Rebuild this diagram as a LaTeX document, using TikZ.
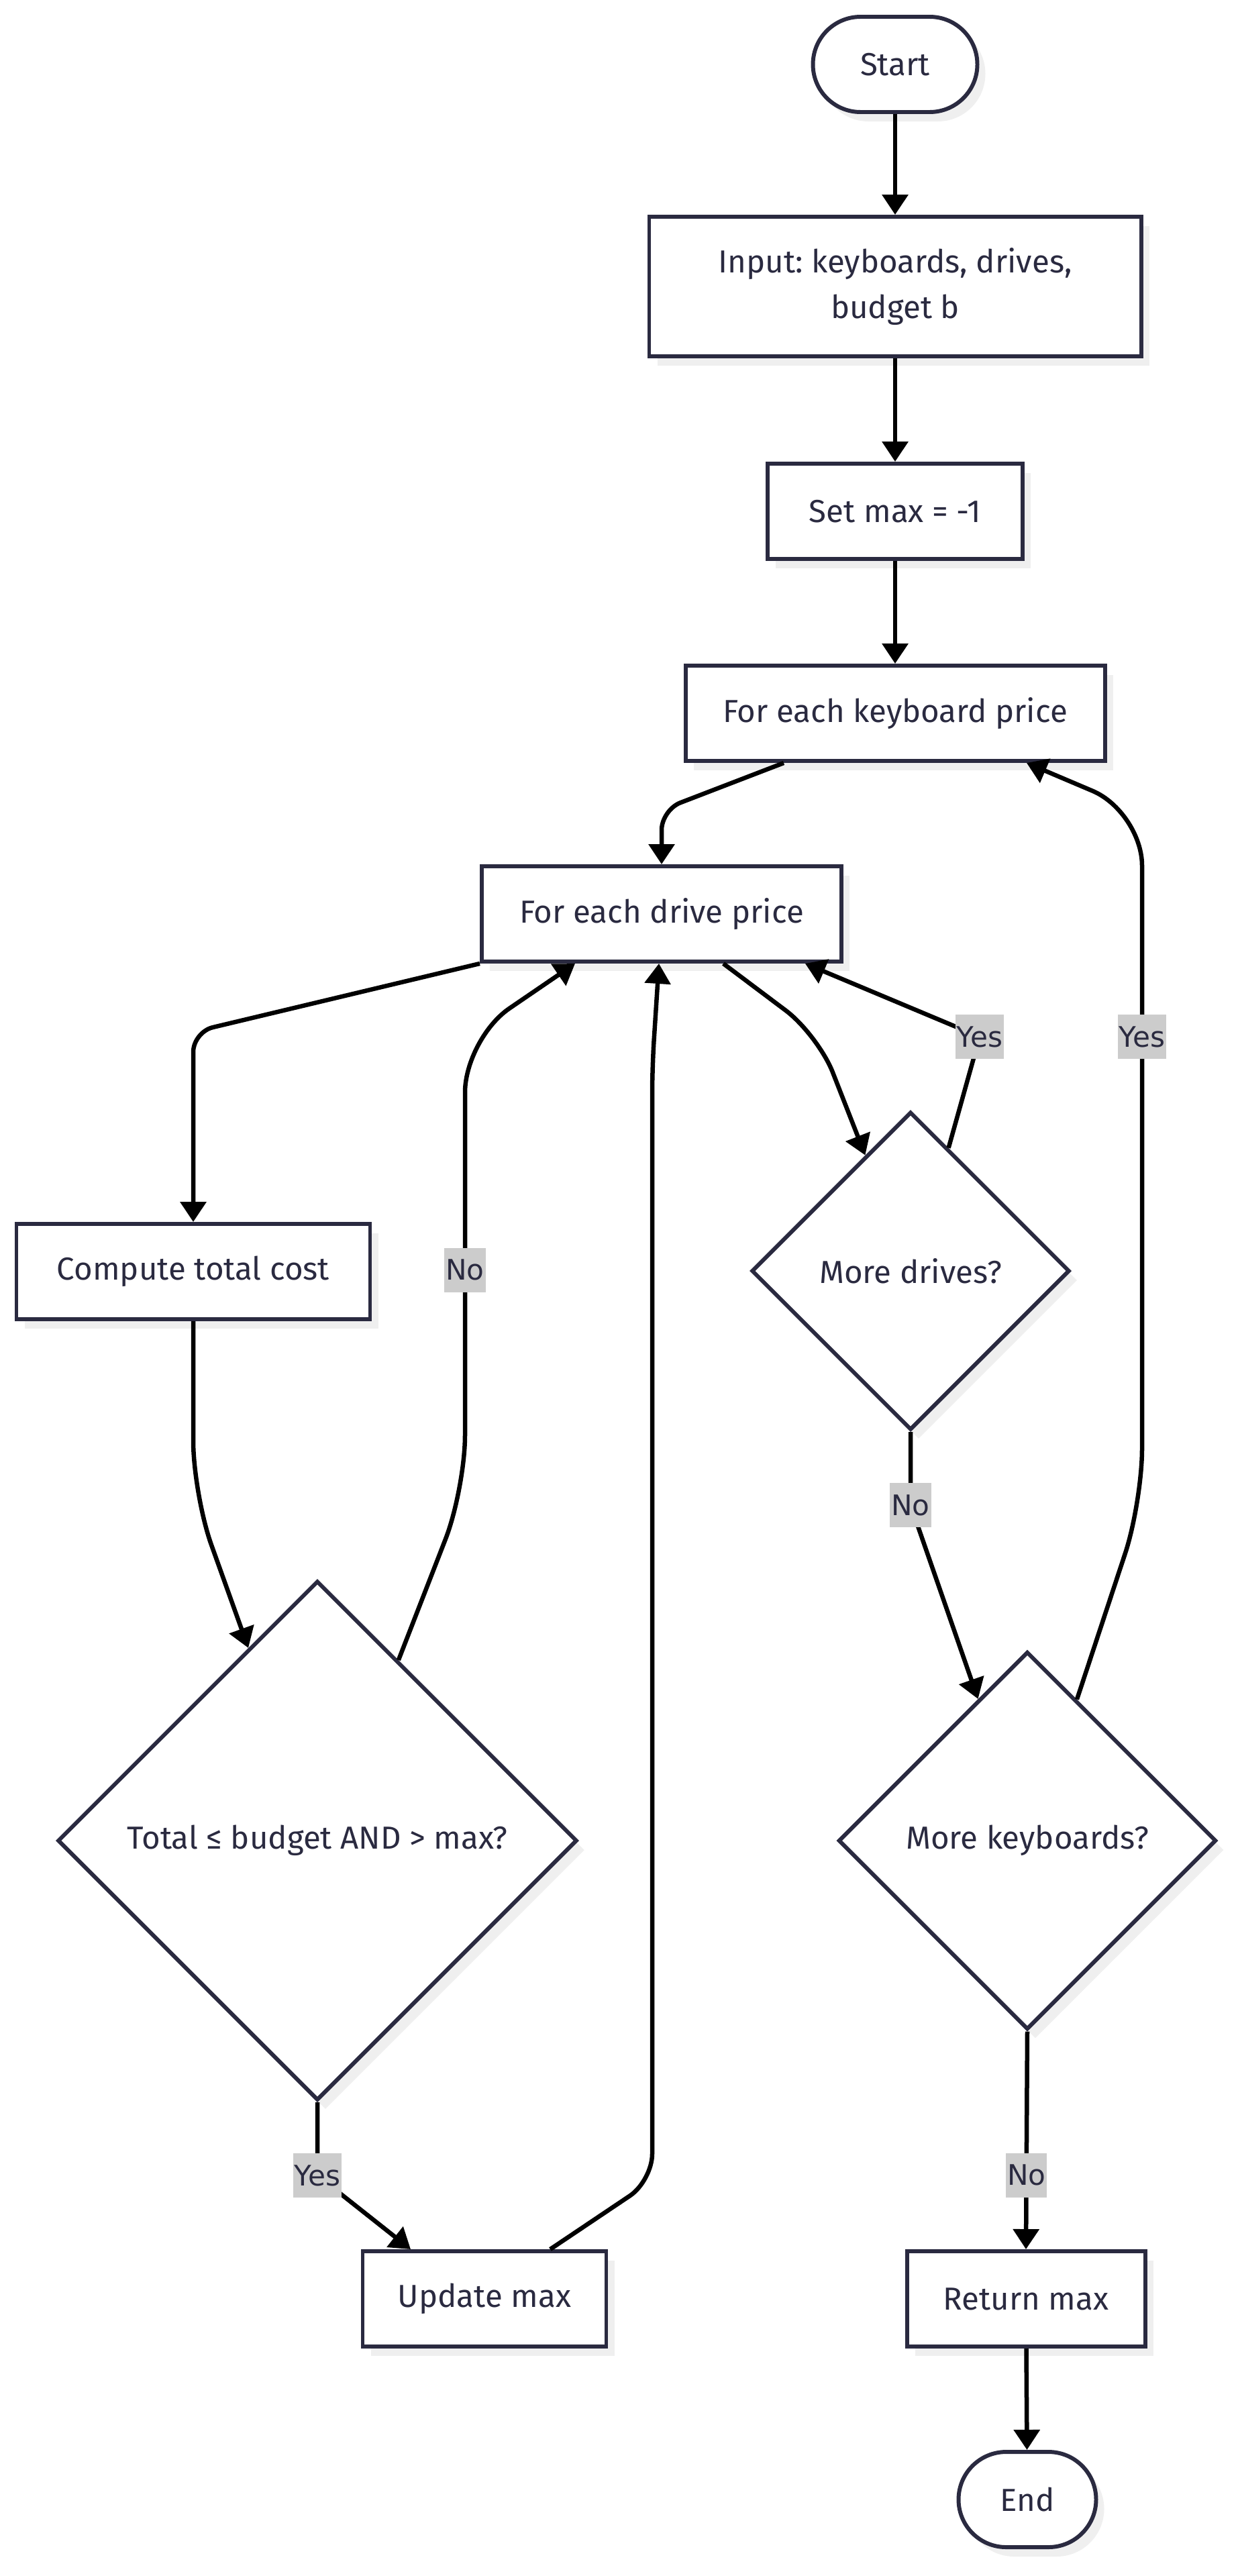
\documentclass[tikz,border=0pt]{standalone}
\usepackage{fontspec}
\setmainfont{Fira Sans}
\newfontfamily\tagfont{DejaVu Sans}
\frenchspacing
\usetikzlibrary{positioning, arrows.meta, shapes.geometric, shadows, calc}
\definecolor{ink}{RGB}{42,42,64}
\definecolor{shade}{RGB}{239,239,239}
\definecolor{tagfill}{RGB}{204,204,204}

\begin{document}
\begin{tikzpicture}[
  box/.style={rectangle, draw=ink, line width=1.7pt, fill=white, text=ink,
    minimum height=1.42cm, inner sep=0pt, align=center,
    font=\fontsize{13.5}{19.6}\selectfont,
    drop shadow={shadow xshift=0.12cm, shadow yshift=-0.14cm, fill=shade,
      opacity=1}},
  term/.style={box, rounded corners=0.71cm},
  decision/.style={diamond, aspect=1, draw=ink, line width=1.7pt, fill=white,
    text=ink, inner sep=0pt, font=\fontsize{13.5}{19.6}\selectfont,
    drop shadow={shadow xshift=0.12cm, shadow yshift=-0.14cm, fill=shade,
      opacity=1}},
  flow/.style={draw=black, line width=1.85pt,
    -{Triangle[length=0.3cm, width=0.38cm]}},
  tag/.style={sharp corners, fill=tagfill, text=ink,
    font=\tagfont\fontsize{12}{14}\selectfont,
    inner xsep=0.6pt, inner ysep=0pt, minimum height=0.66cm}
]
  \useasboundingbox (0,0) rectangle (18.44,-38.39);

  % Set-up steps.
  \node[term, minimum width=2.45cm] (start) at (13.34,-0.96) {Start};
  \node[box, minimum width=7.33cm, minimum height=2.08cm] (input) at (13.34,-4.27)
    {Input: keyboards, drives,\\budget b};
  \node[box, minimum width=3.80cm] (setmax) at (13.34,-7.62) {Set max = -1};

  % Loops over both price lists.
  \node[box, minimum width=6.25cm] (kbd) at (13.34,-10.63) {For each keyboard price};
  \node[box, minimum width=5.36cm] (drv) at (9.86,-13.62) {For each drive price};

  % Inner loop body.
  \node[box, minimum width=5.27cm] (compute) at (2.88,-18.95) {Compute total cost};
  \node[decision, minimum size=7.74cm] (cond) at (4.73,-27.43)
    {Total ≤ budget AND > max?};
  \node[box, minimum width=3.63cm] (upd) at (7.22,-34.26) {Update max};

  % Loop tests and result.
  \node[decision, minimum size=4.74cm] (moredrv) at (13.57,-18.94) {More drives?};
  \node[decision, minimum size=5.63cm] (morekbd) at (15.31,-27.43) {More keyboards?};
  \node[box, minimum width=3.55cm] (ret) at (15.29,-34.26) {Return max};
  \node[term, minimum width=2.05cm] (finish) at (15.31,-37.25) {End};

  % Straight steps down.
  \draw[flow] (start) -- (input);
  \draw[flow] (input) -- (setmax);
  \draw[flow] (setmax) -- (kbd);
  \draw[flow, rounded corners=0.3cm] ([xshift=-1.66cm]kbd.south) -- (9.86,-12.07)
    -- (drv.north);
  \draw[flow, rounded corners=0.3cm] (drv.south west) -- (2.88,-15.38)
    -- (compute.north);
  \draw[flow, rounded corners=0.8cm] (compute.south) -- (2.88,-22.27) -- (cond);

  % Budget test.
  \draw[flow] ($(cond.north)!0.31!(cond.east)$) [rounded corners=0.8cm]
    -- (6.93,-22.19) -- (6.93,-15.48) node[tag, pos=0.486] {No}
    [rounded corners=0.3cm] -- ([xshift=-1.29cm]drv.south);
  \draw[flow] (cond.south) -- (4.73,-32.42) node[tag] {Yes}
    -- ([xshift=-1.10cm]upd.north);
  \draw[flow] ([xshift=0.98cm]upd.north) [rounded corners=0.4cm] -- (9.72,-32.50)
    -- (9.72,-15.9) -- ([xshift=-0.04cm]drv.south);

  % Drive loop.
  \draw[flow, rounded corners=0.6cm] ([xshift=0.92cm]drv.south) -- (12.19,-15.42)
    -- (moredrv);
  \draw[flow] ($(moredrv.north)!0.236!(moredrv.east)$) -- (14.60,-15.45)
    node[tag] {Yes} -- ([xshift=2.14cm]drv.south);
  \draw[flow] (moredrv.south) -- (13.57,-22.43) node[tag] {No} -- (morekbd);

  % Keyboard loop.
  \draw[flow] ($(morekbd.north)!0.26!(morekbd.east)$) [rounded corners=0.8cm]
    -- (17.02,-22.39) -- (17.02,-12.10) node[tag, pos=0.674] {Yes}
    [rounded corners=0.3cm] -- ([xshift=1.96cm]kbd.south);
  \draw[flow] (morekbd.south) -- node[tag, pos=0.66] {No} (ret.north);
  \draw[flow] (ret) -- (finish);
\end{tikzpicture}
\end{document}
